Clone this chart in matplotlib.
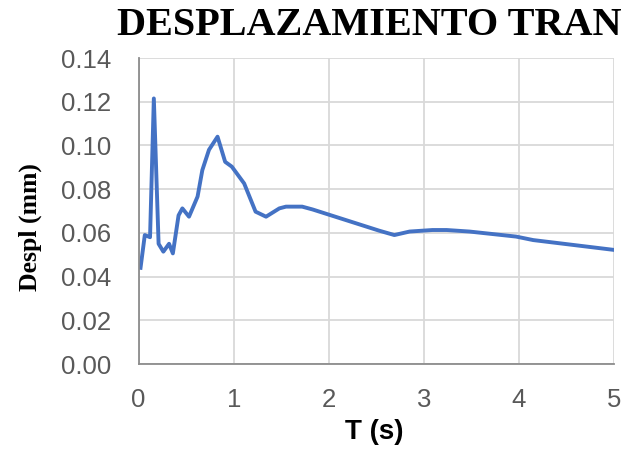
import matplotlib.pyplot as plt
from matplotlib.ticker import FormatStrFormatter

# periodo (s) y desplazamiento (mm)
periodo = [0.02, 0.065, 0.12, 0.16, 0.21, 0.26, 0.32, 0.36, 0.42, 0.46, 0.53,
           0.62, 0.67, 0.74, 0.83, 0.91, 0.98, 1.11, 1.23, 1.34, 1.48, 1.55,
           1.72, 1.83, 2.53, 2.69, 2.85, 3.09, 3.24, 3.48, 3.97, 4.15, 5.0]
despl = [0.044, 0.059, 0.058, 0.1215, 0.055, 0.0514, 0.055, 0.0506, 0.068,
         0.0712, 0.0674, 0.0766, 0.0887, 0.098, 0.104, 0.0925, 0.0903, 0.0826,
         0.0697, 0.0674, 0.0712, 0.072, 0.072, 0.0707, 0.061, 0.059, 0.0606,
         0.0613, 0.0613, 0.0606, 0.0583, 0.0567, 0.0522]

xticks = [0, 1, 2, 3, 4, 5]
yticks = [0.00, 0.02, 0.04, 0.06, 0.08, 0.10, 0.12, 0.14]

fig = plt.figure(figsize=(6.33, 4.55), dpi=100)
ax = fig.add_axes([0.219, 0.200, 0.751, 0.6725])

ax.plot(periodo, despl, color='#4472C4', linewidth=2.8, solid_joinstyle='round')

ax.set_xlim(0, 5)
ax.set_ylim(0, 0.14)
ax.set_xticks(xticks)
ax.set_yticks(yticks)
ax.yaxis.set_major_formatter(FormatStrFormatter('%.2f'))
ax.grid(True, color='#d9d9d9', linewidth=1.3)
ax.set_axisbelow(True)
ax.tick_params(length=0, labelsize=18.5, labelcolor='#595959')
ax.tick_params(axis='y', pad=20)
ax.tick_params(axis='x', pad=17)
for lbl in ax.get_xticklabels() + ax.get_yticklabels():
    lbl.set_family('Liberation Sans')

for s in ['top', 'right']:
    ax.spines[s].set_visible(False)
for s in ['left', 'bottom']:
    ax.spines[s].set_color('#8c8c8c')
    ax.spines[s].set_linewidth(1.3)

fig.text(0.185, 0.944, 'DESPLAZAMIENTO TRAN', family='Liberation Serif',
         fontweight='bold', fontsize=29, va='center', ha='left')
fig.text(0.048, 0.5, 'Despl (mm)', family='Liberation Serif', fontweight='bold',
         fontsize=18.5, rotation=90, va='center', ha='center')
fig.text(0.592, 0.05, 'T (s)', family='Liberation Sans', fontweight='bold',
         fontsize=20, va='center', ha='center')

fig.savefig('out.png', dpi=100)
